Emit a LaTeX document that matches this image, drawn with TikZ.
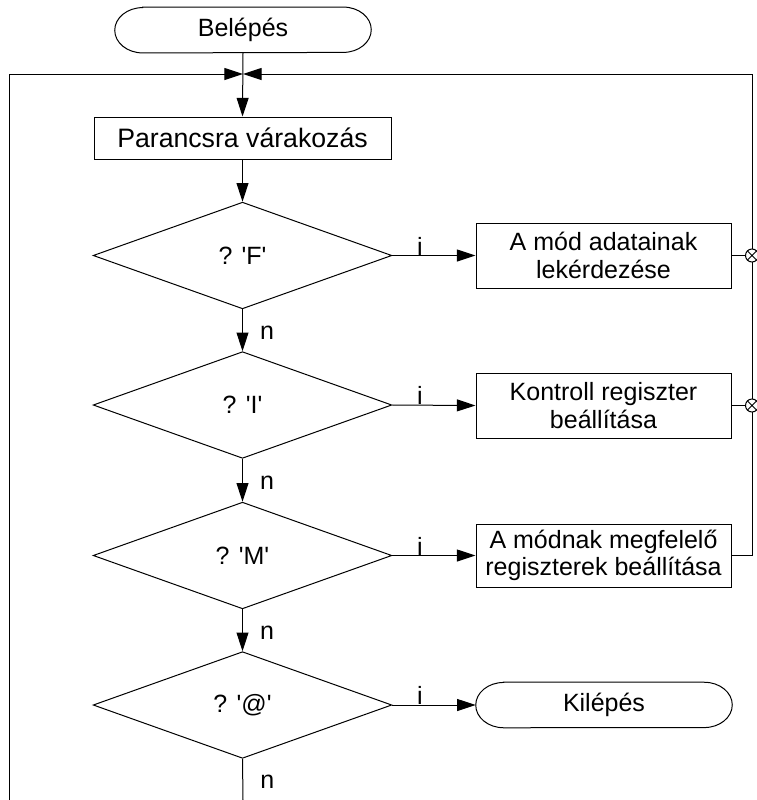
\documentclass[tikz,border=0pt]{standalone}
\usepackage{fontspec}
\setmainfont{Liberation Sans}[Ligatures=TeXOff]
\usetikzlibrary{shapes.geometric,arrows.meta}

\tikzset{
  line/.style={draw=black, line width=0.75pt},
  arr/.style={line, -{Triangle[length=14pt,width=9pt]}},
  txt/.style={font=\fontsize{18.75pt}{20.5pt}\selectfont, align=center, inner sep=0pt},
  procbox/.style={txt, rectangle, draw, line width=0.75pt},
  decision/.style={txt, diamond, draw, line width=0.75pt, minimum width=224pt, minimum height=80pt},
  terminal/.style={txt, rectangle, minimum width=192pt, minimum height=34pt},
  lbl/.style={font=\fontsize{18.75pt}{20.5pt}\selectfont, inner sep=0pt},
  junction/.style={circle, draw, line width=0.75pt, fill=white, inner sep=0pt, minimum size=9.75pt,
    path picture={\draw[line width=0.75pt] (path picture bounding box.north west) -- (path picture bounding box.south east)
                                           (path picture bounding box.north east) -- (path picture bounding box.south west);}}
}

% outline of a start/stop symbol: flat top and bottom, elliptic ends
\newcommand\termframe[1]{%
  \draw[line] ([xshift=21pt]#1.north west) -- ([xshift=-21pt]#1.north east)
    arc[start angle=90, end angle=-90, x radius=21pt, y radius=17pt]
    -- ([xshift=21pt]#1.south west)
    arc[start angle=270, end angle=90, x radius=21pt, y radius=17pt] -- cycle;}

\begin{document}
\begin{tikzpicture}[x=0.75pt, y=-0.75pt]
  \useasboundingbox (0,0) rectangle (757,800);

  % main column
  \node[terminal] (bel) at (243,30) {Belépés};
  \termframe{bel}
  \node[procbox, minimum width=222.75pt, minimum height=31.5pt, font=\fontsize{20pt}{22pt}\selectfont] (wait) at (242.5,138) {Parancsra várakozás};
  \node[decision] (dF) at (242.5,255.5) {? 'F'};
  \node[decision] (dI) at (242.5,405) {? 'I'};
  \node[decision] (dM) at (242.5,555.5) {? 'M'};
  \node[decision] (dA) at (242.5,705) {? '@'};

  % action column
  \node[procbox, minimum width=191.25pt, minimum height=48.75pt] (b1) at (603.5,255.5) {A mód adatainak\\lekérdezése};
  \node[procbox, minimum width=191.25pt, minimum height=48.75pt] (b2) at (603.5,405.5) {Kontroll regiszter\\beállítása};
  \node[procbox, minimum width=191.25pt, minimum height=47.25pt] (b3) at (603.5,555.5) {A módnak megfelelő\\regiszterek beállítása};
  \node[terminal, minimum height=33.75pt] (ki) at (604,705) {Kilépés};
  \termframe{ki}

  % loop-back helpers
  \coordinate (top) at (243,74);
  \coordinate (tl) at (9,74);
  \coordinate (tr) at (752,74);
  \coordinate (bl) at (9,800);
  \coordinate (bc) at (243,800);
  \coordinate (r3) at (752,555.5);

  % main flow
  \draw[arr] (bel.south) -- (wait.north);
  \draw[arr] (wait.south) -- (dF.north);
  \draw[arr] (dF.south) -- node[lbl, right, pos=0.55, xshift=12.75pt] {n} (dI.north);
  \draw[arr] (dI.south) -- node[lbl, right, pos=0.55, xshift=12.75pt] {n} (dM.north);
  \draw[arr] (dM.south) -- node[lbl, right, pos=0.55, xshift=12.75pt] {n} (dA.north);
  \draw[line] (dA.south) -- node[lbl, right, pos=0.55, xshift=12.75pt] {n} (bc);

  % yes branches
  \draw[arr] (dF.east) -- node[lbl, above, pos=0.33] {i} (b1.west);
  \draw[arr] (dI.east) -- node[lbl, above, pos=0.33] {i} (b2.west);
  \draw[arr] (dM.east) -- node[lbl, above, pos=0.33] {i} (b3.west);
  \draw[arr] (dA.east) -- node[lbl, above, pos=0.33] {i} (ki.west);

  % return paths
  \draw[arr] (bl) -- (tl) -- (top);
  \draw[arr] (b3.east) -- (r3) -- (tr) -- (top);
  \node[junction] (j1) at (752,255.5) {};
  \node[junction] (j2) at (752,405.5) {};
  \draw[line] (b1.east) -- (j1.west);
  \draw[line] (b2.east) -- (j2.west);
\end{tikzpicture}
\end{document}
